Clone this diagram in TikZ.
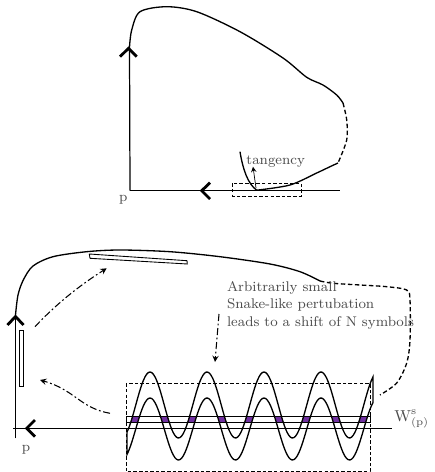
\documentclass[tikz,border=0pt]{standalone}
\definecolor{violetSerpent}{RGB}{112,48,160}
\tikzset{
  declare function={hautA(\t)=405-33*cos(6.31579*(\t-150));
                    hautB(\t)=429-31*cos(6.31579*(\t-150));},
  courbe/.style={line width=0.75pt},
  axe/.style={line width=0.7pt},
  chevron/.style={line width=1.6pt, line join=miter},
  boite/.style={line width=0.4pt, dash pattern=on 2pt off 1.2pt},
  fleche/.style={->, >=stealth, line width=0.6pt, dash pattern=on 4pt off 1.5pt on 1pt off 1.5pt},
  etiquette/.style={text=black!70, font=\footnotesize, inner sep=0pt}
}
\begin{document}
\begin{tikzpicture}[x=0.02cm, y=-0.02cm]
            \useasboundingbox (0,0) rectangle (434,472);

            % ---------- Figure du haut ----------
            % Coordonnées
            \coordinate (P1) at (130,190.7);
            \coordinate (P1haut) at (129.5,47);
            \coordinate (P1fin) at (340,190.7);
            \coordinate (T) at (256.7,190.2); % point de tangence

            % Variétés locales de p
            \draw[axe] (P1) -- (P1haut);
            \draw[axe] (P1) -- (P1fin);
            \draw[chevron] (120,56.7) -- (128.5,48.3) -- (136.7,56.7);
            \draw[chevron] (210,182.7) -- (201.7,190.7) -- (210,199);
            \node[etiquette] (p1) at (123.3,199.3) {p};

            % Orbite homocline (partie pointillée)
            \draw[courbe] plot[smooth] coordinates {(129.5,47) (131.7,30) (140,11.7) (166.7,6.7) (196.7,11.7) (240,31.7) (283,58) (306.7,77.3) (323,85) (336.7,95) (343,103)};
            \draw[courbe, dash pattern=on 2.5pt off 1.5pt] plot[smooth] coordinates {(343,103) (346.7,120) (346.7,140) (338,163)};
            \draw[courbe] plot[smooth] coordinates {(338,163) (330,166.7) (316.7,173) (290,185) (T)};
            \draw[courbe] (240,151.7) .. controls (243,170) and (248,184) .. (T);

            % Tangence
            \draw[boite] (232.7,183.3) rectangle (301,196);
            \node[etiquette] (tang) at (275.7,161.7) {tangency};
            \coordinate (tangPied) at (256,188);
            \coordinate (tangPointe) at (253,166.7);
            \draw[->, >=stealth, line width=0.4pt] (tangPied) -- (tangPointe);

            % ---------- Figure du bas ----------
            % Coordonnées
            \coordinate (P2) at (15.5,428.3);
            \coordinate (P2bas) at (15.5,438.3);
            \coordinate (P2haut) at (15.5,315);
            \coordinate (P2gauche) at (13.3,428.3);
            \coordinate (P2fin) at (392,428.3);

            % Variétés locales de p
            \draw[axe] (P2bas) -- (P2haut);
            \draw[axe] (P2gauche) -- (P2fin);
            \draw[chevron] (7.5,325) -- (15.5,316.5) -- (23.5,325);
            \draw[chevron] (35,420) -- (26.7,428.3) -- (35,436.7);
            \node[etiquette] (p2) at (26,450) {p};
            \node[etiquette, font=\small, anchor=base west] (ws) at (394,421.5) {W$^{\mathrm{s}}_{\scriptstyle\mathrm{(p)}}$};

            % Orbite qui revient
            \draw[courbe] plot[smooth] coordinates {(P2haut) (18,295) (23.3,280) (33,266) (53,256.7) (86.7,251.7) (120,250) (170,251.7) (220,256.7) (270,264) (300,271.7) (320,281)};
            \draw[courbe, dash pattern=on 2.5pt off 1.5pt] plot[smooth] coordinates {(320,281) (333,283.3) (360,285) (386.7,286.7) (406.7,290) (410,300) (410,340) (406.7,363) (396.7,383) (380,395)};

            % Petits rectangles
            \draw[line width=0.5pt] (19,330) rectangle (23.3,386);
            \draw[line width=0.5pt] (89.3,254) -- (187,260.7) -- (187.3,264) -- (90,258.3) -- cycle;

            % Serpent : intersections en violet
            \begin{scope}
              \clip (126,416) rectangle (370,422.7);
              \fill[violetSerpent] plot[domain=127:373, samples=150, smooth] (\x,{hautA(\x)})
                -- plot[domain=373:127, samples=150, smooth] (\x,{hautB(\x)}) -- cycle;
            \end{scope}
            \draw[courbe] plot[domain=127:373, samples=150, smooth] (\x,{hautA(\x)})
                -- plot[domain=373:127, samples=150, smooth] (\x,{hautB(\x)}) -- cycle;
            \draw[line width=0.5pt] (126,416) rectangle (370,422.7);
            \draw[boite] (126,383.3) rectangle (370,471.5);

            % Texte
            \node[etiquette, anchor=base west] (note1) at (226.7,291.7) {Arbitrarily small};
            \node[etiquette, anchor=base west] (note2) at (226.7,308) {Snake-like pertubation};
            \node[etiquette, anchor=base west] (note3) at (226.7,326) {leads to a shift of N symbols};

            % Flèches
            \coordinate (rectV) at (35,326.7);
            \coordinate (rectH) at (106.7,268.3);
            \coordinate (bandeG) at (110,413.3);
            \coordinate (rectVb) at (40,380);
            \coordinate (noteBas) at (219,314);
            \coordinate (serpentHaut) at (215,362);
            \draw[fleche] (rectV) .. controls (60,300) and (85,282) .. (rectH);
            \draw[fleche] (bandeG) .. controls (80,408) and (75,390) .. (rectVb);
            \draw[fleche] (noteBas) -- (serpentHaut);

        \end{tikzpicture}
\end{document}
